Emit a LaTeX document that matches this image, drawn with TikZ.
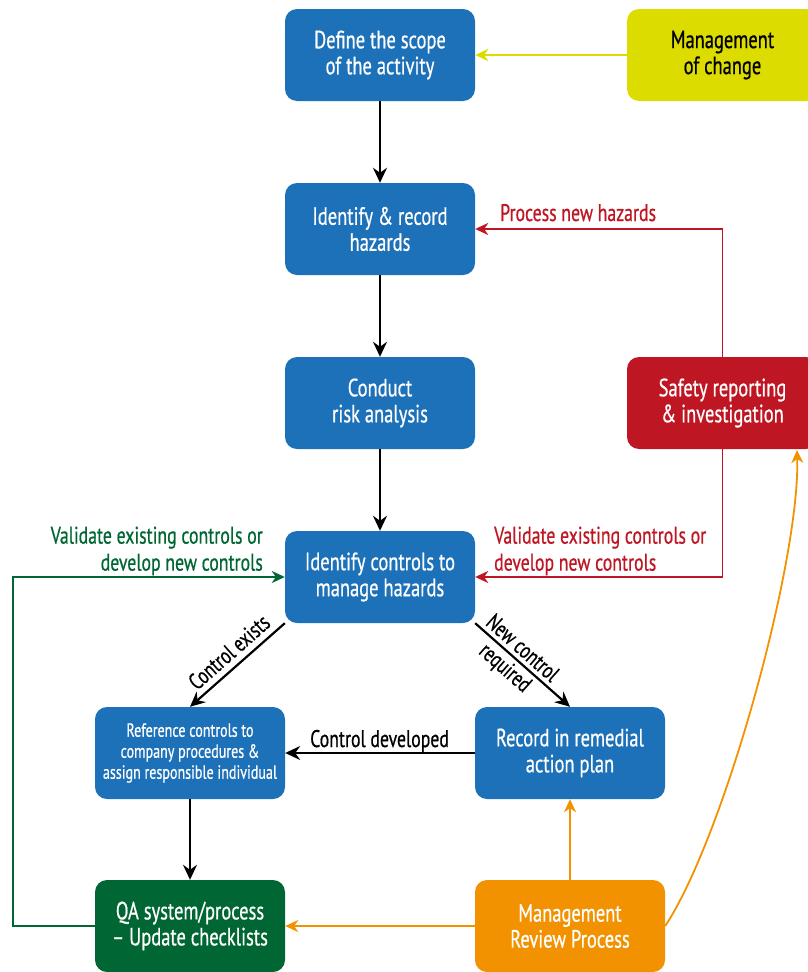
\documentclass[tikz,border=0pt]{standalone}
\usepackage{fontspec}
\setmainfont{PT Sans}[FakeStretch=0.74,FakeBold=0.6,BoldFont={PT Sans}]
\usetikzlibrary{arrows.meta}
\definecolor{cblue}{RGB}{28,113,184}
\definecolor{cyel}{RGB}{220,220,0}
\definecolor{cred}{RGB}{190,22,34}
\definecolor{cgrn}{RGB}{0,102,51}
\definecolor{corg}{RGB}{243,146,0}
\begin{document}
\begin{tikzpicture}[x=1pt,y=-1pt,
  box/.style={rounded corners=12pt, minimum width=190pt, minimum height=92pt,
    inner sep=0pt, align=center, font=\fontsize{25}{26}\selectfont\bfseries, text=white, fill=cblue},
  smallbox/.style={box, font=\fontsize{19}{21}\selectfont\bfseries},
  lbl/.style={font=\fontsize{24}{27}\selectfont, inner sep=0pt},
  tip/.style={-{Stealth[length=13pt,width=12pt,inset=4pt]}},
  blk/.style={-{Stealth[length=15pt,width=14pt,inset=5pt]}, line width=2.2pt, black},
  col/.style={tip, line width=1.8pt}
]
\useasboundingbox (0,0) rectangle (808,972);
\clip (0,0) rectangle (808,972);

\node[box] (define) at (380,55) {Define the scope\\of the activity};
\node[box, fill=cyel, text=black, minimum width=191pt] (moc) at (722.5,55) {Management\\of change};
\node[box] (ident) at (380,229) {Identify \& record\\hazards};
\node[box] (risk) at (380,403) {Conduct\\risk analysis};
\node[box, fill=cred, minimum width=191pt] (safety) at (722.5,403) {Safety reporting\\\& investigation};
\node[box] (ctrl) at (380,577) {Identify controls to\\manage hazards};
\node[smallbox] (ref) at (190,753) {Reference controls to\\company procedures \&\\assign responsible individual};
\node[box] (rec) at (570,753) {Record in remedial\\action plan};
\node[box, fill=cgrn] (qa) at (190,926) {QA system/process\\– Update checklists};
\node[box, fill=corg] (mr) at (570,926) {Management\\Review Process};

\coordinate (gcorner) at (13,577);
\coordinate (safin) at (797,450);

\draw[blk] (define) -- (ident);
\draw[blk] (ident) -- (risk);
\draw[blk] (risk) -- (ctrl);
\draw[col, cyel] (moc) -- (define);
\draw[col, cred] (safety.north) |- (ident.east);
\draw[col, cred] (safety.south) |- (ctrl.east);
\draw[col, cgrn] (qa.west) -| (gcorner) -- (ctrl.west);
\draw[blk] (ctrl.south west) -- (ref.north);
\draw[blk] (ctrl.south east) -- (rec.north);
\draw[blk] (rec.west) -- (ref.east);
\draw[blk] (ref) -- (qa);
\draw[col, corg] (mr) -- (rec);
\draw[col, corg] (mr.west) -- (qa.east);
\draw[col, corg] (mr.east) .. controls (725,835) and (800,560) .. (safin);

\node[lbl, text=cred, anchor=base west] (lpnh) at (500,221) {Process new hazards};
\node[lbl, text=cred, anchor=west, align=left] (lred) at (494,551) {Validate existing controls or\\develop new controls};
\node[lbl, text=cgrn, anchor=east, align=right] (lgrn) at (263,551) {Validate existing controls or\\develop new controls};
\node[lbl, anchor=base west] (ldev) at (310,747) {Control developed};
\node[lbl, font=\fontsize{23}{26}\selectfont, rotate=41.5] (lexists) at (229,652) {Control exists};
\node[lbl, font=\fontsize{23}{26}\selectfont, rotate=-41.5, align=center] (lnew) at (513,659) {New control\\required};
\end{tikzpicture}
\end{document}
